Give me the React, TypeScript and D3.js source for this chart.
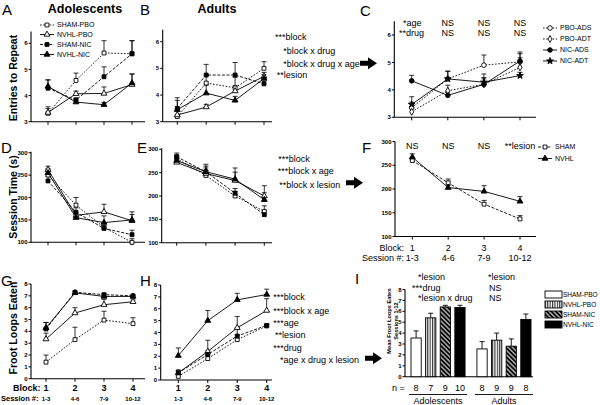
import React from 'react';
import * as d3 from 'd3';

const FONT = '"Liberation Sans", Arial, Helvetica, sans-serif';

// ---------- shared categories ----------
const blocks = [1, 2, 3, 4];
const blockTickLabels = ['1', '2', '3', '4'];
const sessionTickLabels = ['1-3', '4-6', '7-9', '10-12'];
const groupNames4 = ['SHAM-PBO', 'NVHL-PBO', 'SHAM-NIC', 'NVHL-NIC'];
const groupNamesC = ['PBO-ADS', 'PBO-ADT', 'NIC-ADS', 'NIC-ADT'];
const groupNamesF = ['SHAM', 'NVHL'];
const ageGroups = ['Adolescents', 'Adults'];

// ---------- A: entries to repeat, adolescents ----------
const aShamPbo = [3.32, 4.58, 5.63, 5.6];
const aShamPboErr = [0.25, 0.28, 0.47, 0.5];
const aNvhlPbo = [3.35, 4.07, 4.08, 4.42];
const aNvhlPboErr = [0.15, 0.1, 0.25, 0.4];
const aShamNic = [4.28, 3.83, 4.72, 5.6];
const aShamNicErr = [0.32, 0.08, 0.38, 0.5];
const aNvhlNic = [4.35, 3.75, 3.65, 4.48];
const aNvhlNicErr = [0.25, 0.08, 0.08, 0.35];

// ---------- B: entries to repeat, adults ----------
const bShamPbo = [3.19, 4.45, 4.27, 5.0];
const bShamPboErr = [0.3, 0.3, 0.4, 0.25];
const bNvhlPbo = [3.25, 3.55, 4.15, 4.7];
const bNvhlPboErr = [0.2, 0.1, 0.2, 0.15];
const bShamNic = [3.5, 4.75, 4.75, 4.42];
const bShamNicErr = [0.4, 0.4, 0.47, 0.1];
const bNvhlNic = [3.45, 4.07, 3.8, 4.62];
const bNvhlNicErr = [0.35, 0.3, 0.15, 0.15];

// ---------- C: entries to repeat by age x drug ----------
const cPboAds = [3.35, 4.4, 4.9, 5.02];
const cPboAdsErr = [0.2, 0.28, 0.37, 0.3];
const cPboAdt = [3.2, 3.97, 4.2, 4.82];
const cPboAdtErr = [0.15, 0.2, 0.2, 0.35];
const cNicAds = [4.33, 3.8, 4.2, 5.05];
const cNicAdsErr = [0.2, 0.12, 0.25, 0.33];
const cNicAdt = [3.47, 4.4, 4.28, 4.52];
const cNicAdtErr = [0.28, 0.28, 0.3, 0.12];

// ---------- D: session time, adolescents ----------
const dShamPbo = [250, 183, 133, 100];
const dShamPboErr = [12, 17, 10, 8];
const dNvhlPbo = [262, 160, 168, 148];
const dNvhlPboErr = [8, 6, 17, 20];
const dShamNic = [237, 167, 131, 117];
const dShamNicErr = [10, 10, 6, 10];
const dNvhlNic = [255, 155, 144, 150];
const dNvhlNicErr = [10, 6, 15, 12];

// ---------- E: session time, adults ----------
const eShamPbo = [280, 244, 200, 167];
const eShamPboErr = [8, 10, 10, 12];
const eNvhlPbo = [272, 248, 233, 200];
const eNvhlPboErr = [8, 20, 27, 22];
const eShamNic = [284, 252, 206, 160];
const eShamNicErr = [8, 8, 10, 8];
const eNvhlNic = [276, 252, 236, 192];
const eNvhlNicErr = [8, 12, 15, 15];

// ---------- F: session time by lesion ----------
const fSham = [260, 213, 168, 137];
const fShamErr = [6, 8, 8, 7];
const fNvhl = [267, 203, 195, 174];
const fNvhlErr = [7, 5, 12, 10];

// ---------- G: froot loops eaten, adolescents ----------
const gShamPbo = [1.4, 3.3, 4.95, 4.65];
const gShamPboErr = [0.6, 1.05, 0.75, 0.5];
const gNvhlPbo = [3.35, 5.55, 6.25, 6.5];
const gNvhlPboErr = [0.5, 0.45, 0.45, 0.15];
const gShamNic = [4.2, 7.3, 7.1, 7.0];
const gShamNicErr = [0.55, 0.1, 0.1, 0.1];
const gNvhlNic = [4.3, 7.25, 6.95, 6.95];
const gNvhlNicErr = [0.45, 0.1, 0.1, 0.1];

// ---------- H: froot loops eaten, adults ----------
const hShamPbo = [0.3, 1.8, 3.4, 4.55];
const hShamPboErr = [0.2, 0.3, 0.4, 0.1];
const hNvhlPbo = [0.6, 2.4, 4.4, 5.85];
const hNvhlPboErr = [0.25, 0.95, 0.95, 1.0];
const hShamNic = [0.6, 2.15, 3.7, 4.6];
const hShamNicErr = [0.2, 0.3, 0.7, 0.1];
const hNvhlNic = [2.05, 5.0, 6.75, 7.2];
const hNvhlNicErr = [0.65, 0.85, 0.55, 0.45];

// ---------- I: mean froot loops eaten ----------
const iAdolescentMeans = [3.55, 5.4, 6.4, 6.35];
const iAdolescentErr = [0.65, 0.42, 0.15, 0.2];
const iAdultMeans = [2.55, 3.35, 2.8, 5.25];
const iAdultErr = [0.67, 0.65, 0.67, 0.5];
const iAdolescentN = [8, 7, 9, 10];
const iAdultN = [8, 9, 9, 8];

// ---------- tick values ----------
const entriesTicks = [3, 4, 5, 6];
const timeTicks = [100, 150, 200, 250, 300];
const loopTicks = [0, 1, 2, 3, 4, 5, 6, 7, 8];

// ---------- styles (kept separate from the data) ----------
type Sty = { symbol: string; fill: string; dash: string | null };
const styles4: Sty[] = [
  { symbol: 'square', fill: 'white', dash: '1.6,1.6' },
  { symbol: 'triangle', fill: 'white', dash: null },
  { symbol: 'square', fill: 'black', dash: '3,1.6' },
  { symbol: 'triangle', fill: 'black', dash: null },
];
const stylesC: Sty[] = [
  { symbol: 'circle', fill: 'white', dash: '1.6,1.6' },
  { symbol: 'diamond', fill: 'white', dash: '1.6,1.6' },
  { symbol: 'circle', fill: 'black', dash: null },
  { symbol: 'star', fill: 'black', dash: null },
];
const stylesF: Sty[] = [
  { symbol: 'square', fill: 'white', dash: '3,1.6' },
  { symbol: 'triangle', fill: 'black', dash: null },
];

const symTypes: Record<string, any> = {
  square: d3.symbolSquare,
  triangle: d3.symbolTriangle,
  circle: d3.symbolCircle,
  diamond: d3.symbolDiamond,
  star: d3.symbolStar,
};
const symSizes: Record<string, number> = { square: 15, triangle: 15, circle: 17, diamond: 14, star: 14 };

function Marker({ sty, x, y }: { sty: Sty; x: number; y: number }) {
  const d = d3.symbol().type(symTypes[sty.symbol]).size(symSizes[sty.symbol])() as string;
  return <path d={d} transform={`translate(${x},${y})`} fill={sty.fill} stroke="black" strokeWidth={0.9} />;
}

type Series = { values: number[]; err: number[]; sty: Sty };
type PanelCfg = {
  axisX: number; xEnd: number; x1: number; x4: number;
  yMin: number; yMinPx: number; yRefVal: number; yRefPx: number; yTopVal: number;
  ticks: number[]; series: Series[];
};

function LinePanel({ cfg }: { cfg: PanelCfg }) {
  const x = d3.scaleLinear().domain([1, 4]).range([cfg.x1, cfg.x4]);
  const y = d3.scaleLinear().domain([cfg.yMin, cfg.yRefVal]).range([cfg.yMinPx, cfg.yRefPx]);
  const y0 = y(cfg.yMin);
  return (
    <g>
      <line x1={cfg.axisX} x2={cfg.axisX} y1={y0} y2={y(cfg.yTopVal)} stroke="black" strokeWidth={1.1} />
      <line x1={cfg.axisX} x2={cfg.xEnd} y1={y0} y2={y0} stroke="black" strokeWidth={1.1} />
      {cfg.ticks.map((t) => (
        <g key={t}>
          <line x1={cfg.axisX - 2.5} x2={cfg.axisX} y1={y(t)} y2={y(t)} stroke="black" strokeWidth={1} />
          <text x={cfg.axisX - 3.5} y={y(t)} dy="0.35em" textAnchor="end" fontSize={6} fontWeight="bold">{t}</text>
        </g>
      ))}
      {blocks.map((b) => (
        <line key={b} x1={x(b)} x2={x(b)} y1={y0} y2={y0 + 3} stroke="black" strokeWidth={1} />
      ))}
      {cfg.series.map((s, i) => {
        const line = d3.line<number>().x((_, j) => x(blocks[j])).y((v) => y(v));
        return (
          <path key={'l' + i} d={line(s.values) as string} fill="none" stroke="black" strokeWidth={0.9}
            strokeDasharray={s.sty.dash || undefined} />
        );
      })}
      {cfg.series.map((s, i) => (
        <g key={'e' + i}>
          {s.values.map((v, j) => {
            const xx = x(blocks[j]);
            const yt = y(v + s.err[j]);
            return (
              <g key={j}>
                <line x1={xx} x2={xx} y1={y(v)} y2={yt} stroke="black" strokeWidth={0.8} />
                <line x1={xx - 2.5} x2={xx + 2.5} y1={yt} y2={yt} stroke="black" strokeWidth={0.8} />
              </g>
            );
          })}
        </g>
      ))}
      {cfg.series.map((s, i) => (
        <g key={'m' + i}>
          {s.values.map((v, j) => <Marker key={j} sty={s.sty} x={x(blocks[j])} y={y(v)} />)}
        </g>
      ))}
    </g>
  );
}

function Legend({ names, styles, x, ys, fs }: { names: string[]; styles: Sty[]; x: number; ys: number[]; fs: number }) {
  return (
    <g>
      {names.map((n, i) => (
        <g key={n}>
          <line x1={x} x2={x + 14} y1={ys[i]} y2={ys[i]} stroke="black" strokeWidth={0.9}
            strokeDasharray={styles[i].dash || undefined} />
          <Marker sty={styles[i]} x={x + 7} y={ys[i]} />
          <text x={x + 17} y={ys[i]} dy="0.35em" fontSize={fs}>{n}</text>
        </g>
      ))}
    </g>
  );
}

function Arrow({ x, y }: { x: number; y: number }) {
  const d = `M${x},${y - 2.5} L${x + 8},${y - 2.5} L${x + 8},${y - 6} L${x + 17},${y} L${x + 8},${y + 6} L${x + 8},${y + 2.5} L${x},${y + 2.5} Z`;
  return <path d={d} fill="black" />;
}

function mk(values: number[][], errs: number[][], styles: Sty[]): Series[] {
  return values.map((v, i) => ({ values: v, err: errs[i], sty: styles[i] }));
}

const barFills = ['white', 'url(#vstripe)', 'url(#dstripe)', 'black'];

function BarPanel() {
  const axisX = 405;
  const xEnd = 533;
  const y = d3.scaleLinear().domain([0, 8]).range([376.7, 289.5]);
  const outer = d3.scaleBand<string>().domain(ageGroups).range([411, 531]).paddingInner(0.18);
  const inner = d3.scaleBand<string>().domain(groupNames4).range([0, outer.bandwidth()]).paddingInner(0.3);
  const data = [
    { g: ageGroups[0], means: iAdolescentMeans, err: iAdolescentErr, n: iAdolescentN },
    { g: ageGroups[1], means: iAdultMeans, err: iAdultErr, n: iAdultN },
  ];
  const y0 = y(0);
  return (
    <g>
      <line x1={axisX} x2={axisX} y1={y0} y2={y(8)} stroke="black" strokeWidth={1.1} />
      <line x1={axisX} x2={xEnd} y1={y0} y2={y0} stroke="black" strokeWidth={1.1} />
      {loopTicks.map((t) => (
        <g key={t}>
          <line x1={axisX - 2.5} x2={axisX} y1={y(t)} y2={y(t)} stroke="black" />
          <text x={axisX - 3.5} y={y(t)} dy="0.35em" textAnchor="end" fontSize={6} fontWeight="bold">{t}</text>
        </g>
      ))}
      {data.map((grp) => {
        const gx = outer(grp.g) as number;
        return (
          <g key={grp.g}>
            {grp.means.map((m, i) => {
              const bx = gx + (inner(groupNames4[i]) as number);
              const bw = inner.bandwidth();
              const cx = bx + bw / 2;
              const yt = y(m + grp.err[i]);
              return (
                <g key={i}>
                  <line x1={cx} x2={cx} y1={y(m)} y2={yt} stroke="black" strokeWidth={0.9} />
                  <line x1={cx - 2.5} x2={cx + 2.5} y1={yt} y2={yt} stroke="black" strokeWidth={0.9} />
                  <rect x={bx} y={y(m)} width={bw} height={y0 - y(m)} fill={barFills[i]} stroke="black" strokeWidth={0.9} />
                  <text x={cx} y={391} textAnchor="middle" fontSize={9}>{grp.n[i]}</text>
                </g>
              );
            })}
            <line x1={gx - 2} x2={gx + outer.bandwidth() + 2} y1={394.5} y2={394.5} stroke="black" strokeWidth={0.9} />
            <text x={gx + outer.bandwidth() / 2} y={404} textAnchor="middle" fontSize={9}>{grp.g}</text>
          </g>
        );
      })}
      <text x={392} y={391} fontSize={9}>n =</text>
      <text transform="translate(391,321) rotate(-90)" textAnchor="middle" fontSize={5.6} fontWeight="bold">Mean Froot Loops Eaten</text>
      <text transform="translate(397.5,321) rotate(-90)" textAnchor="middle" fontSize={5.6} fontWeight="bold">Sessions 1-12</text>
      {groupNames4.map((n, i) => (
        <g key={n}>
          <rect x={545} y={291 + i * 10} width={17} height={7} fill={barFills[i]} stroke="black" strokeWidth={0.9} />
          <text x={563} y={294.5 + i * 10} dy="0.35em" fontSize={6.5}>{n}</text>
        </g>
      ))}
      <text x={418} y={280} fontSize={9}>*lesion</text>
      <text x={412} y={290.5} fontSize={9}>***drug</text>
      <text x={418} y={301} fontSize={9}>*lesion x drug</text>
      <text x={488} y={280} fontSize={9}>*lesion</text>
      <text x={489} y={290.5} fontSize={9}>NS</text>
      <text x={489} y={301} fontSize={9}>NS</text>
    </g>
  );
}

export default function App() {
  const panelA: PanelCfg = {
    axisX: 31, xEnd: 145, x1: 48, x4: 132, yMin: 3, yMinPx: 121.7, yRefVal: 6, yRefPx: 43.3, yTopVal: 6.45,
    ticks: entriesTicks,
    series: mk([aShamPbo, aNvhlPbo, aShamNic, aNvhlNic], [aShamPboErr, aNvhlPboErr, aShamNicErr, aNvhlNicErr], styles4),
  };
  const panelB: PanelCfg = {
    axisX: 162.7, xEnd: 272, x1: 177.3, x4: 264, yMin: 3, yMinPx: 121.7, yRefVal: 6, yRefPx: 41.7, yTopVal: 6.45,
    ticks: entriesTicks,
    series: mk([bShamPbo, bNvhlPbo, bShamNic, bNvhlNic], [bShamPboErr, bNvhlPboErr, bShamNicErr, bNvhlNicErr], styles4),
  };
  const panelC: PanelCfg = {
    axisX: 394.3, xEnd: 536, x1: 411.7, x4: 520, yMin: 3, yMinPx: 117.3, yRefVal: 6, yRefPx: 35, yTopVal: 6.5,
    ticks: entriesTicks,
    series: mk([cPboAds, cPboAdt, cNicAds, cNicAdt], [cPboAdsErr, cPboAdtErr, cNicAdsErr, cNicAdtErr], stylesC),
  };
  const panelD: PanelCfg = {
    axisX: 31, xEnd: 145, x1: 48, x4: 132, yMin: 100, yMinPx: 242.3, yRefVal: 300, yRefPx: 152.7, yTopVal: 302,
    ticks: timeTicks,
    series: mk([dShamPbo, dNvhlPbo, dShamNic, dNvhlNic], [dShamPboErr, dNvhlPboErr, dShamNicErr, dNvhlNicErr], styles4),
  };
  const panelE: PanelCfg = {
    axisX: 161.7, xEnd: 272, x1: 176.7, x4: 264.3, yMin: 100, yMinPx: 242.7, yRefVal: 300, yRefPx: 149.3, yTopVal: 302,
    ticks: timeTicks,
    series: mk([eShamPbo, eNvhlPbo, eShamNic, eNvhlNic], [eShamPboErr, eNvhlPboErr, eShamNicErr, eNvhlNicErr], styles4),
  };
  const panelF: PanelCfg = {
    axisX: 395, xEnd: 536, x1: 412.3, x4: 520, yMin: 100, yMinPx: 236.5, yRefVal: 300, yRefPx: 141.5, yTopVal: 300,
    ticks: timeTicks,
    series: mk([fSham, fNvhl], [fShamErr, fNvhlErr], stylesF),
  };
  const panelG: PanelCfg = {
    axisX: 31, xEnd: 145, x1: 46, x4: 133, yMin: 0, yMinPx: 378.7, yRefVal: 8, yRefPx: 284, yTopVal: 8,
    ticks: loopTicks,
    series: mk([gShamPbo, gNvhlPbo, gShamNic, gNvhlNic], [gShamPboErr, gNvhlPboErr, gShamNicErr, gNvhlNicErr], styles4),
  };
  const panelH: PanelCfg = {
    axisX: 160.7, xEnd: 272, x1: 178.3, x4: 266.7, yMin: 0, yMinPx: 380, yRefVal: 8, yRefPx: 285, yTopVal: 8,
    ticks: loopTicks,
    series: mk([hShamPbo, hNvhlPbo, hShamNic, hNvhlNic], [hShamPboErr, hNvhlPboErr, hShamNicErr, hNvhlNicErr], styles4),
  };

  const xC = d3.scaleLinear().domain([1, 4]).range([411.7, 520]);
  const xF = d3.scaleLinear().domain([1, 4]).range([412.3, 520]);
  const xG = d3.scaleLinear().domain([1, 4]).range([46, 133]);
  const xH = d3.scaleLinear().domain([1, 4]).range([178.3, 266.7]);

  return (
    <div style={{ position: 'absolute', left: 0, top: 0, width: 600, height: 405, background: 'white' }}>
      <svg width={600} height={405} style={{ display: 'block', fontFamily: FONT }}>
        <defs>
          <pattern id="vstripe" width={2.4} height={4} patternUnits="userSpaceOnUse">
            <rect width={2.4} height={4} fill="white" />
            <line x1={0.6} x2={0.6} y1={0} y2={4} stroke="black" strokeWidth={0.9} />
          </pattern>
          <pattern id="dstripe" width={3.2} height={3.2} patternUnits="userSpaceOnUse" patternTransform="rotate(45)">
            <rect width={3.2} height={3.2} fill="black" />
            <line x1={0} x2={3.2} y1={1.6} y2={1.6} stroke="white" strokeWidth={1} />
          </pattern>
        </defs>
        <rect width={600} height={405} fill="white" />

        {/* panel letters */}
        <text x={2} y={15} fontSize={15}>A</text>
        <text x={140} y={15} fontSize={15}>B</text>
        <text x={360} y={16} fontSize={15}>C</text>
        <text x={1} y={153} fontSize={15}>D</text>
        <text x={137} y={153} fontSize={15}>E</text>
        <text x={362} y={153} fontSize={15}>F</text>
        <text x={1} y={286} fontSize={15}>G</text>
        <text x={140} y={286} fontSize={15}>H</text>
        <text x={355} y={284} fontSize={15}>I</text>

        {/* titles */}
        <text x={85} y={13} textAnchor="middle" fontSize={12.5} fontWeight="bold">Adolescents</text>
        <text x={217} y={13} textAnchor="middle" fontSize={12.5} fontWeight="bold">Adults</text>

        {/* y labels */}
        <text transform="translate(17,78) rotate(-90)" textAnchor="middle" fontSize={10.5} fontWeight="bold">Entries to Repeat</text>
        <text transform="translate(17,197) rotate(-90)" textAnchor="middle" fontSize={10.5} fontWeight="bold">Session Time (s)</text>
        <text transform="translate(17,328) rotate(-90)" textAnchor="middle" fontSize={10.5} fontWeight="bold">Froot Loops Eaten</text>

        <LinePanel cfg={panelA} />
        <LinePanel cfg={panelB} />
        <LinePanel cfg={panelC} />
        <LinePanel cfg={panelD} />
        <LinePanel cfg={panelE} />
        <LinePanel cfg={panelF} />
        <LinePanel cfg={panelG} />
        <LinePanel cfg={panelH} />
        <BarPanel />

        {/* legends */}
        <Legend names={groupNames4} styles={styles4} x={40} ys={[25, 34.5, 44.5, 54.5]} fs={7} />
        <Legend names={groupNamesC} styles={stylesC} x={543} ys={[28, 39, 50, 61]} fs={7} />
        <Legend names={groupNamesF} styles={stylesF} x={538} ys={[147, 158.5]} fs={7} />

        {/* B stats */}
        <text x={275} y={40.2} fontSize={9}>***block</text>
        <text x={283.3} y={53.5} fontSize={9}>*block x drug</text>
        <text x={283.3} y={66.5} fontSize={9}>*block x drug x age</text>
        <text x={276.7} y={77.8} fontSize={9}>**lesion</text>
        <Arrow x={360} y={63.3} />

        {/* C stats */}
        <text x={403} y={26.3} fontSize={9}>*age</text>
        <text x={399} y={36.3} fontSize={9}>**drug</text>
        {[2, 3, 4].map((b) => (
          <g key={b}>
            <text x={xC(b)} y={26.3} textAnchor="middle" fontSize={9}>NS</text>
            <text x={xC(b)} y={36.3} textAnchor="middle" fontSize={9}>NS</text>
          </g>
        ))}

        {/* E stats */}
        <text x={278.3} y={162} fontSize={9}>***block</text>
        <text x={277.7} y={173.7} fontSize={9}>***block x age</text>
        <text x={279.3} y={188} fontSize={9}>**block x lesion</text>
        <Arrow x={346} y={182.7} />

        {/* F stats and labels */}
        {[1, 2, 3].map((b) => (
          <text key={b} x={xF(b)} y={148.5} textAnchor="middle" fontSize={9}>NS</text>
        ))}
        <text x={xF(4)} y={148.5} textAnchor="middle" fontSize={9}>**lesion</text>
        <text x={404} y={250.5} textAnchor="end" fontSize={9}>Block:</text>
        <text x={404} y={260.5} textAnchor="end" fontSize={9}>Session #:</text>
        {blocks.map((b, i) => (
          <g key={b}>
            <text x={xF(b)} y={250.5} textAnchor="middle" fontSize={9}>{blockTickLabels[i]}</text>
            <text x={xF(b)} y={260.5} textAnchor="middle" fontSize={9}>{sessionTickLabels[i]}</text>
          </g>
        ))}

        {/* G / H block labels */}
        <text x={13} y={391} fontSize={9} fontWeight="bold">Block:</text>
        <text x={1} y={401} fontSize={7.5} fontWeight="bold">Session #:</text>
        {blocks.map((b, i) => (
          <g key={b}>
            <text x={xG(b)} y={391} textAnchor="middle" fontSize={9} fontWeight="bold">{blockTickLabels[i]}</text>
            <text x={xG(b)} y={401} textAnchor="middle" fontSize={6} fontWeight="bold">{sessionTickLabels[i]}</text>
            <text x={xH(b)} y={391} textAnchor="middle" fontSize={9} fontWeight="bold">{blockTickLabels[i]}</text>
            <text x={xH(b)} y={401} textAnchor="middle" fontSize={6} fontWeight="bold">{sessionTickLabels[i]}</text>
          </g>
        ))}

        {/* H stats */}
        <text x={273.3} y={300.4} fontSize={9}>***block</text>
        <text x={273.3} y={313.7} fontSize={9}>***block x age</text>
        <text x={273.3} y={326} fontSize={9}>***age</text>
        <text x={275} y={338} fontSize={9}>**lesion</text>
        <text x={273.3} y={351.4} fontSize={9}>***drug</text>
        <text x={280} y={363} fontSize={9}>*age x drug x lesion</text>
        <Arrow x={365} y={358.3} />
      </svg>
    </div>
  );
}
